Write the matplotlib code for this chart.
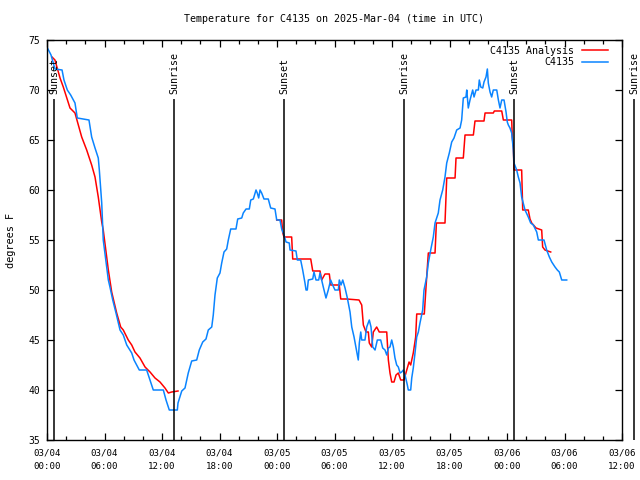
import matplotlib
matplotlib.use("Agg")
import matplotlib.pyplot as plt
from matplotlib.ticker import MultipleLocator

# ---- data (hours since 2025-03-04 00:00 UTC, degrees F) ----
obs_hours = [0.05, 0.10, 0.42, 0.83, 1.57, 1.77, 2.12, 2.47, 2.92, 3.16, 4.38, 4.66, 5.01, 5.35, 5.46,
             5.71, 5.87, 6.13, 6.40, 6.57, 6.86, 7.20, 7.62, 7.96, 8.32, 8.84, 9.08, 9.63, 10.40, 10.75,
             11.09, 12.14, 12.42, 12.76, 13.60, 13.67, 14.06, 14.40, 14.74, 15.10, 15.62, 15.89, 16.25,
             16.59, 16.83, 17.19, 17.35, 17.53, 17.77, 18.05, 18.23, 18.47, 18.75, 18.92, 19.17, 19.72,
             19.90, 20.32, 20.48, 20.77, 21.11, 21.26, 21.53, 21.81, 21.94, 22.09, 22.23, 22.40, 22.64,
             23.09, 23.34, 23.79, 23.97, 24.31, 24.49, 24.73, 24.94, 25.28, 25.36, 25.98, 26.12, 26.47,
             26.68, 26.92, 27.03, 27.16, 27.27, 27.73, 27.86, 28.07, 28.35, 28.49, 28.66, 28.83, 29.11,
             29.35, 29.60, 29.81, 30.05, 30.40, 30.50, 30.68, 30.86, 31.10, 31.34, 31.62, 31.80, 32.04,
             32.32, 32.48, 32.59, 32.74, 32.84, 33.18, 33.36, 33.63, 33.81, 33.99, 34.23, 34.47, 34.82,
             35.03, 35.27, 35.45, 35.62, 35.79, 35.97, 36.14, 36.31, 36.49, 36.66, 36.84, 37.01, 37.18,
             37.36, 37.60, 37.70, 37.95, 38.06, 38.22, 38.40, 38.58, 38.75, 38.92, 39.20, 39.34, 39.62,
             39.79, 40.04, 40.31, 40.49, 40.83, 41.01, 41.29, 41.53, 41.71, 41.98, 42.23, 42.47, 42.75,
             43.10, 43.27, 43.44, 43.72, 43.80, 43.96, 44.14, 44.42, 44.56, 44.77, 45.01, 45.11, 45.26,
             45.47, 45.60, 45.81, 45.95, 46.05, 46.23, 46.40, 46.57, 46.93, 47.10, 47.27, 47.45, 47.69,
             47.90, 48.03, 48.14, 48.31, 48.49, 48.66, 48.73, 49.01, 49.18, 49.36, 49.53, 49.88, 50.22,
             50.47, 50.75, 51.10, 51.27, 51.86, 52.14, 52.42, 52.67, 53.01, 53.25, 53.46, 53.71, 54.23]
obs_temps = [74.2, 74.1, 73.5, 72.1, 72.0, 71.0, 70.0, 69.5, 68.7, 67.2, 67.0, 65.3, 64.2, 63.2, 62.0,
             58.7, 55.0, 53.0, 51.0, 50.3, 49.0, 47.7, 46.0, 45.5, 44.5, 43.7, 43.0, 42.0, 42.0, 41.0,
             40.0, 40.0, 39.0, 38.0, 38.0, 38.7, 39.9, 40.2, 41.7, 42.9, 43.0, 44.0, 44.8,
             45.1, 46.0, 46.3, 47.5, 49.5, 51.2, 51.7, 52.7, 53.8, 54.1, 55.0, 56.1, 56.1,
             57.1, 57.2, 57.7, 58.1, 58.1, 59.0, 59.1, 60.0, 59.7, 59.2, 60.0, 59.7, 59.1,
             59.1, 58.2, 58.1, 57.0, 57.0, 56.1, 55.5, 54.8, 54.7, 54.0, 53.9, 53.0, 53.0,
             52.0, 50.7, 50.0, 50.0, 51.0, 51.1, 51.8, 51.0, 51.0, 51.7, 51.0, 50.3, 49.2,
             50.0, 51.0, 50.5, 50.0, 50.0, 51.0, 50.5, 51.0, 50.2, 49.2, 47.8, 46.3, 45.3,
             43.8, 43.0, 44.7, 45.8, 45.0, 45.0, 46.3, 47.0, 46.3, 44.3, 44.0, 45.0, 45.0,
             44.2, 44.0, 43.5, 44.2, 44.3, 45.0, 44.3, 43.2, 42.5, 42.3, 41.7, 41.8, 42.0,
             41.5, 40.5, 40.0, 40.0, 41.2, 42.2, 43.7, 45.3, 45.8, 46.7, 48.0, 50.0, 51.3,
             52.7, 54.0, 55.3, 56.7, 57.7, 59.0, 60.0, 61.3, 62.7, 63.7, 64.8, 65.2, 66.0,
             66.2, 67.0, 69.2, 69.3, 70.0, 68.2, 69.0, 70.0, 69.3, 70.0, 70.0, 71.0, 70.3,
             70.2, 70.8, 71.3, 72.1, 70.7, 69.8, 69.3, 70.0, 70.0, 69.0, 68.2, 69.0, 69.0,
             67.8, 66.8, 66.5, 66.2, 65.7, 64.0, 62.7, 62.0, 61.3, 60.7, 59.3, 58.0, 57.3,
             56.7, 56.5, 55.8, 55.0, 55.0, 54.0, 53.3, 52.8, 52.3, 52.0, 51.8, 51.0, 51.0]

ana1_hours = [0.52, 0.83, 1.36, 1.70, 2.40, 2.92, 3.62, 4.14, 4.66, 5.01, 5.35, 5.71, 5.87, 6.40, 6.75,
              7.27, 7.69, 7.96, 8.48, 8.84, 9.18, 9.70, 10.23, 10.75, 11.27, 11.79, 12.31, 12.66, 13.01, 13.67]
ana1_temps = [73.3, 73.0, 71.2, 70.3, 68.2, 67.7, 65.3, 64.0, 62.5, 61.3, 59.3, 56.8, 56.0, 52.0, 49.8,
              47.7, 46.3, 46.0, 45.0, 44.5, 43.8, 43.2, 42.3, 41.8, 41.2, 40.8, 40.2, 39.7, 39.8, 39.9]

ana2_hours = [23.97, 24.49, 24.60, 24.73, 25.53, 25.64, 27.52, 27.73, 28.49, 28.66, 29.01, 29.46, 29.60,
              30.50, 30.65, 31.27, 32.56, 32.84, 33.01, 33.29, 33.53, 33.63, 33.88, 34.05, 34.40, 34.67,
              35.45, 35.62, 35.79, 35.97, 36.21, 36.42, 36.66, 36.91, 37.25, 37.54, 37.78, 37.95, 38.22,
              38.47, 38.58, 39.37, 39.55, 39.79, 40.49, 40.63, 41.53, 41.71, 42.58, 42.68, 43.44, 43.62,
              44.49, 44.66, 45.60, 45.71, 46.57, 46.68, 47.45, 47.62, 48.49, 48.55, 48.66, 48.73, 49.53,
              49.64, 50.22, 50.40, 50.58, 51.03, 51.62, 51.72, 51.96, 52.56]
ana2_temps = [57.0, 57.0, 55.7, 55.3, 55.3, 53.1, 53.1, 51.9, 51.9, 51.0, 51.6, 51.6, 50.5,
              50.5, 49.1, 49.1, 49.0, 48.5, 46.5, 45.8, 45.8, 44.7, 44.3, 45.8, 46.3, 45.8,
              45.8, 43.0, 41.7, 40.8, 40.8, 41.5, 41.7, 41.0, 41.0, 42.0, 42.8, 42.5, 43.7,
              45.3, 47.6, 47.6, 50.3, 53.7, 53.7, 56.7, 56.7, 61.2, 61.2, 63.2, 63.2, 65.5,
              65.5, 66.9, 66.9, 67.7, 67.7, 67.9, 67.9, 67.0, 67.0, 65.3, 64.3, 62.0, 62.0,
              58.0, 58.0, 57.1, 56.7, 56.2, 56.0, 54.3, 54.0, 53.8]

sun_hours = [0.77, 13.30, 24.77, 37.28, 48.77, 61.25]
sun_labels = ["Sunset", "Sunrise", "Sunset", "Sunrise", "Sunset", "Sunrise"]

xtick_hours = [0, 6, 12, 18, 24, 30, 36, 42, 48, 54, 60]
xtick_labels = ["03/04\n00:00", "03/04\n06:00", "03/04\n12:00", "03/04\n18:00",
                "03/05\n00:00", "03/05\n06:00", "03/05\n12:00", "03/05\n18:00",
                "03/06\n00:00", "03/06\n06:00", "03/06\n12:00"]

title = "Temperature for C4135 on 2025-Mar-04 (time in UTC)"

# ---- figure ----
FONT = "DejaVu Sans Mono"
plt.rcParams['font.family'] = [FONT, 'DejaVu Sans']

fig = plt.figure(figsize=(6.4, 4.8), dpi=100)
ax = fig.add_axes([47/640, 1-440/480, 575/640, 400/480])

RED = "#ff0000"
BLUE = "#0a84ff"
ax.plot(ana1_hours, ana1_temps, color=RED, lw=1.1, label="C4135 Analysis")
ax.plot(ana2_hours, ana2_temps, color=RED, lw=1.1)
ax.plot(obs_hours, obs_temps, color=BLUE, lw=1.1, label="C4135")

ax.set_xlim(0, 60)
ax.set_ylim(35, 75)

# sunrise / sunset markers
ax.vlines(sun_hours, 0, 0.8525, transform=ax.get_xaxis_transform(),
          colors="black", lw=1.1, clip_on=False)
for h, lab in zip(sun_hours, sun_labels):
    ax.text(h, 0.865, lab, transform=ax.get_xaxis_transform(), rotation=90,
            ha="center", va="bottom", fontsize=7.2, family=FONT, clip_on=False)

ax.set_xticks(xtick_hours)
ax.set_xticklabels(xtick_labels, fontsize=6.6, family=FONT, linespacing=1.6)
ax.xaxis.set_minor_locator(MultipleLocator(2))
ax.yaxis.set_major_locator(MultipleLocator(5))
for lbl in ax.get_yticklabels():
    lbl.set_fontsize(7)
    lbl.set_family(FONT)

ax.tick_params(which="both", direction="in", top=True, right=True, width=0.9)
ax.tick_params(which="major", length=5, pad=5)
ax.tick_params(which="minor", length=3)
ax.tick_params(axis="x", which="major", pad=6)
for s in ax.spines.values():
    s.set_linewidth(1.0)

ax.set_ylabel("degrees F", fontsize=7.4, family=FONT, labelpad=9)
fig.text(334.5/640, 1-19/480, title, ha="center", va="center", fontsize=7.2, family=FONT)

leg = ax.legend(loc="upper right", bbox_to_anchor=((612-47)/575, 0.995), frameon=False,
                markerfirst=False, prop={"family": FONT, "size": 7.2}, handlelength=2.6,
                borderaxespad=0.0, labelspacing=0.15, handletextpad=0.8)

fig.savefig("out.png", dpi=100)
